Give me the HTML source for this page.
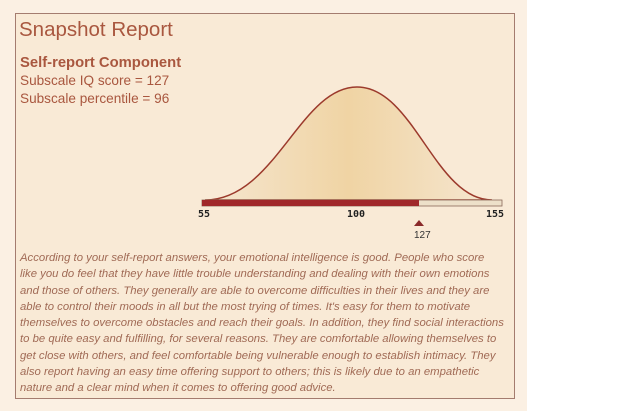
<!DOCTYPE html><html><head><style>
body{margin:0;width:640px;height:411px;background:#fff;overflow:hidden;font-family:"Liberation Sans",sans-serif;}
#bg{position:absolute;left:0;top:0;width:527px;height:411px;background:#fbf0e3;}
#box{position:absolute;left:15px;top:13px;width:498px;height:384px;border:1px solid #a47c6f;background:#f9ead6;}
.t{position:absolute;color:#a9573f;white-space:nowrap;}
#p{position:absolute;left:20px;top:250px;font-size:10.6px;line-height:16.3px;font-style:italic;color:#a06a55;white-space:nowrap;transform:scaleX(1.07);transform-origin:0 0;}
</style></head><body>
<div id="bg"></div><div id="box"></div>
<div class="t" style="left:19px;top:18px;font-size:20.5px;">Snapshot Report</div>
<div class="t" style="left:20px;top:55px;font-size:14.8px;font-weight:bold;">Self-report Component</div>
<div class="t" style="left:20px;top:73px;font-size:13.6px;">Subscale IQ score = 127</div>
<div class="t" style="left:20px;top:91px;font-size:13.6px;">Subscale percentile = 96</div>
<svg style="position:absolute;left:0;top:0" width="640" height="411">
<defs><linearGradient id="g" x1="0" x2="1"><stop offset="0" stop-color="#f5e6d0"/><stop offset="0.5" stop-color="#f0d4a4"/><stop offset="1" stop-color="#f5e6d0"/></linearGradient></defs>
<path d="M205,200 C275,200 300,87 357,87 C414,87 435,200 492,200 Z" fill="url(#g)" stroke="#9c3a2c" stroke-width="1.5"/>
<rect x="202" y="200" width="300" height="6" fill="#ede0c9" stroke="#8a6a5a" stroke-width="0.8"/>
<rect x="202" y="200" width="217" height="6" fill="#a0282a"/>
<g font-family="DejaVu Sans Mono,monospace" font-weight="bold" font-size="10" fill="#222">
<text x="198" y="217">55</text><text x="347" y="217">100</text><text x="486" y="217">155</text></g>
<polygon points="419,220 424,226 414,226" fill="#8a2a2a"/>
<text x="414" y="238" font-size="10" fill="#333" font-family="Liberation Sans,sans-serif">127</text>
</svg>
<div id="p">According to your self-report answers, your emotional intelligence is good. People who score<br>like you do feel that they have little trouble understanding and dealing with their own emotions<br>and those of others. They generally are able to overcome difficulties in their lives and they are<br>able to control their moods in all but the most trying of times. It's easy for them to motivate<br>themselves to overcome obstacles and reach their goals. In addition, they find social interactions<br>to be quite easy and fulfilling, for several reasons. They are comfortable allowing themselves to<br>get close with others, and feel comfortable being vulnerable enough to establish intimacy. They<br>also report having an easy time offering support to others; this is likely due to an empathetic<br>nature and a clear mind when it comes to offering good advice.</div>
</body></html>
